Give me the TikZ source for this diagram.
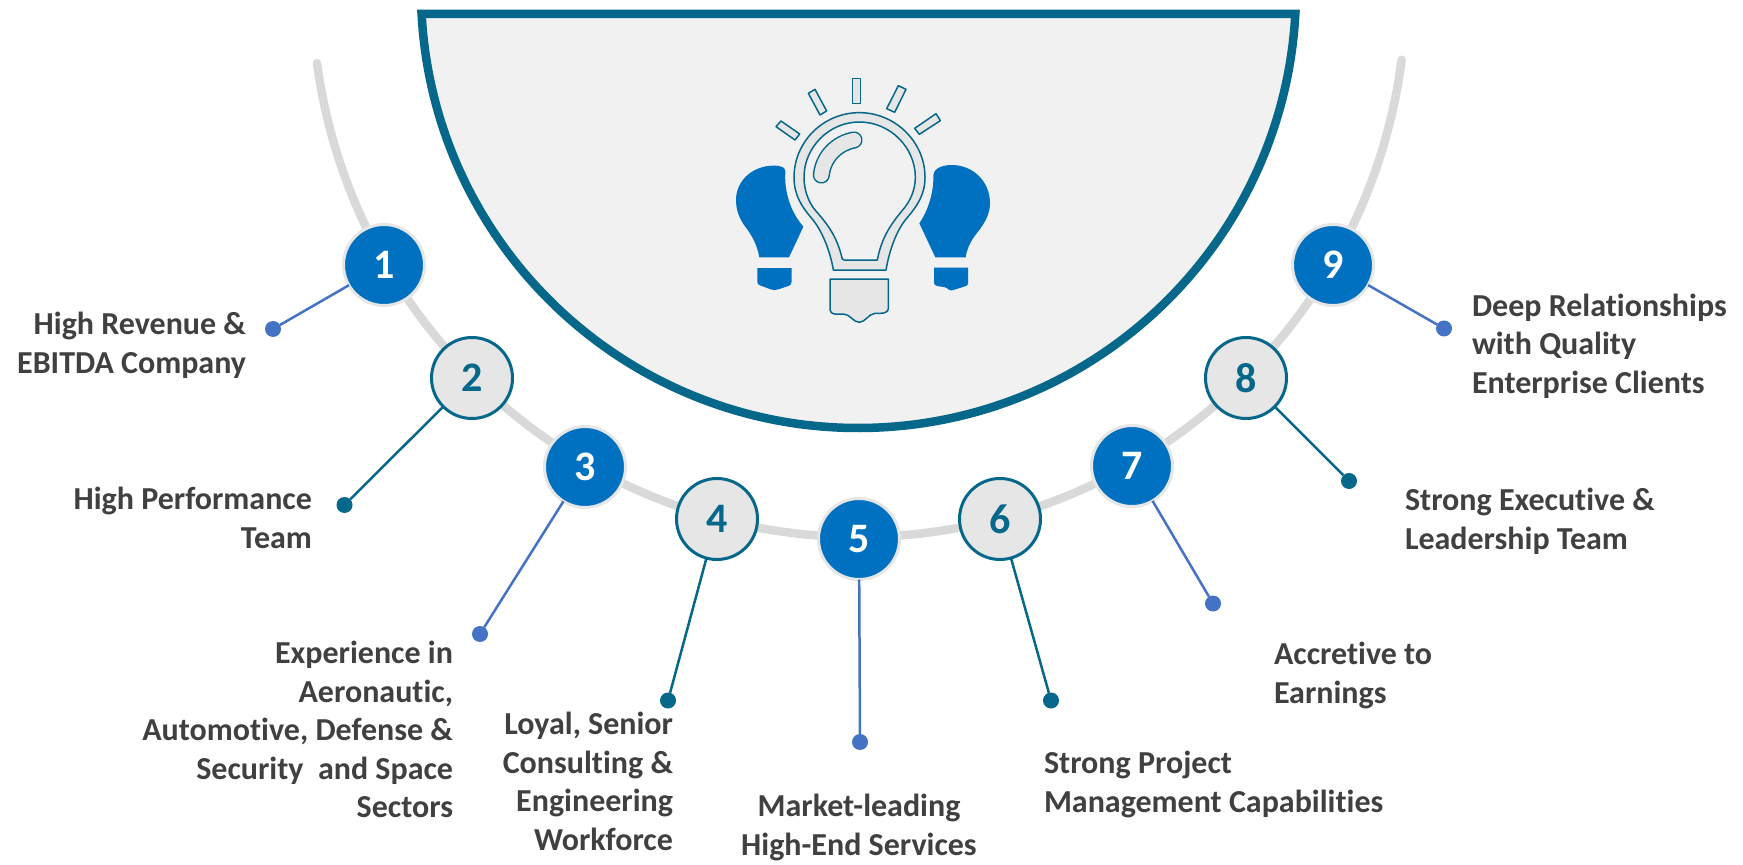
\documentclass[tikz,border=0pt]{standalone}
\usepackage{fontspec}
\setmainfont[Ligatures=NoCommon]{Carlito}
\definecolor{teal1}{HTML}{05688A}
\definecolor{blue1}{HTML}{0070C0}
\definecolor{blue2}{HTML}{4472C4}
\definecolor{ringgrey}{HTML}{E6E6E6}
\definecolor{arcgrey}{HTML}{D9D9D9}
\definecolor{panel}{HTML}{F1F1F1}
\definecolor{txt}{HTML}{404040}
\tikzset{
  x=0.5pt,y=-0.5pt,
  oddc/.style={circle,fill=blue1,draw=ringgrey,line width=1.5pt,minimum size=40.5pt,inner sep=0pt,outer sep=0pt,text=white,font=\fontsize{21}{21}\selectfont\bfseries},
  evenc/.style={circle,fill=ringgrey,draw=teal1,line width=1.5pt,minimum size=40.5pt,inner sep=0pt,outer sep=0pt,text=teal1,font=\fontsize{21}{21}\selectfont\bfseries},
  odot/.style={circle,fill=blue2,minimum size=8pt,inner sep=0pt,outer sep=0pt},
  edot/.style={circle,fill=teal1,minimum size=8pt,inner sep=0pt,outer sep=0pt},
  oline/.style={draw=blue2,line width=1.25pt},
  eline/.style={draw=teal1,line width=1.25pt},
  lbl/.style={inner sep=0pt,outer sep=0pt,text=txt,font=\fontsize{16}{19.25}\selectfont\bfseries},
  lblr/.style={lbl,anchor=north east,align=right},
  lbll/.style={lbl,anchor=north west,align=left},
  lblc/.style={lbl,anchor=north,align=center},
  icon/.style={draw=teal1,line width=0.75pt,fill=ringgrey,line join=round},
  solidbulb/.style={fill=blue1},
}
\begin{document}
\begin{tikzpicture}
\useasboundingbox (0,0) rectangle (1743,865);
% grey arc
\draw[arcgrey,line width=4.25pt,line cap=round] (317,63) arc[start angle=187.67,end angle=352.67,radius=273.5pt];
% half disc
\draw[teal1,fill=panel,line width=4.25pt,line join=miter] (421.6,14) arc[start angle=183.08,end angle=356.92,radius=218.75pt] -- cycle;
% circles
\node[oddc]  (c1) at (384,265) {1};
\node[evenc] (c2) at (472,378) {2};
\node[oddc]  (c3) at (585,467) {3};
\node[evenc] (c4) at (717,519) {4};
\node[oddc]  (c5) at (859,539) {5};
\node[evenc] (c6) at (1000,519) {6};
\node[oddc]  (c7) at (1132,466) {7};
\node[evenc] (c8) at (1246,378) {8};
\node[oddc]  (c9) at (1333,265) {9};
% dots
\node[odot] (d1) at (273,329) {};
\node[edot] (d2) at (344.5,505) {};
\node[odot] (d3) at (480,634) {};
\node[edot] (d4) at (668,700.5) {};
\node[odot] (d5) at (860,742) {};
\node[edot] (d6) at (1051,700.5) {};
\node[odot] (d7) at (1213,603.5) {};
\node[edot] (d8) at (1349,481) {};
\node[odot] (d9) at (1444,328.5) {};
% connectors
\draw[oline] (c1) -- (d1);
\draw[eline] (c2) -- (d2);
\draw[oline] (c3) -- (d3);
\draw[eline] (c4) -- (d4);
\draw[oline] (c5) -- (d5);
\draw[eline] (c6) -- (d6);
\draw[oline] (c7) -- (d7);
\draw[eline] (c8) -- (d8);
\draw[oline] (c9) -- (d9);
% labels
\node[lblr] (t1) at (246,308) {\strut High Revenue \&\\EBITDA Company};
\node[lblr] (t2) at (312,483) {\strut High Performance\\Team};
\node[lblr] (t3) at (453,637) {\strut Experience in\\Aeronautic,\\Automotive, Defense \&\\Security\ \ and Space\\Sectors};
\node[lblr] (t4) at (673,708) {\strut Loyal, Senior\\Consulting \&\\Engineering\\Workforce};
\node[lblc] (t5) at (859,790) {\strut Market-leading\\High-End Services};
\node[lbll] (t6) at (1044,747) {\strut Strong Project\\Management Capabilities};
\node[lbll] (t7) at (1274,638) {\strut Accretive to\\Earnings};
\node[lbll] (t8) at (1405,484) {\strut Strong Executive \&\\Leadership Team};
\node[lbll] (t9) at (1472,289.5) {\strut Deep Relationships\\with Quality\\Enterprise Clients};
% icon: centre bulb (zoom units, 3 per pixel)
\begin{scope}[shift={(780,60)},x=0.16667pt,y=-0.16667pt]
\path[icon,even odd rule]
  (160,630) .. controls (150,570) and (125,510) .. (95,475)
  .. controls (65,440) and (42,405) .. (42,352)
  .. controls (42,245) and (130,158) .. (238,158)
  .. controls (345,158) and (435,245) .. (435,352)
  .. controls (435,405) and (410,440) .. (380,475)
  .. controls (350,510) and (328,570) .. (318,630) -- cycle
  (185,590) .. controls (170,530) and (145,495) .. (105,450)
  .. controls (85,425) and (72,390) .. (72,352)
  .. controls (72,262) and (147,186) .. (238,186)
  .. controls (330,186) and (406,262) .. (406,352)
  .. controls (406,390) and (390,425) .. (368,450)
  .. controls (335,490) and (305,530) .. (292,600) -- (192,600)
  .. controls (187,600) and (186,596) .. (185,590) -- cycle;
\draw[teal1,line width=8.6pt,line cap=round] (124,345) .. controls (130,290) and (170,250) .. (222,240);
\draw[ringgrey,line width=7.1pt,line cap=round] (124,345) .. controls (130,290) and (170,250) .. (222,240);
\path[icon] (217,55) rectangle (242,130);
\path[icon] (85,100) -- (105,88) -- (140,153) -- (120,165) -- cycle;
\path[icon] (355,77) -- (378,88) -- (344,157) -- (320,146) -- cycle;
\path[icon] (468,161) -- (481,182) -- (418,223) -- (404,205) -- cycle;
\path[icon] (-12,200) -- (3,183) -- (59,222) -- (45,240) -- cycle;
\path[icon] (150,657) -- (325,657) -- (325,745)
  .. controls (325,755) and (315,760) .. (300,760) -- (285,760)
  .. controls (265,762) and (255,787) .. (238,787)
  .. controls (220,787) and (210,762) .. (190,762) -- (165,762)
  .. controls (155,762) and (150,755) .. (150,745) -- cycle;
% right solid bulb
\path[solidbulb] (466,592) -- (418,490)
  .. controls (445,450) and (462,395) .. (460,345)
  .. controls (460,330) and (480,315) .. (515,315)
  .. controls (580,315) and (630,365) .. (630,430)
  .. controls (630,460) and (615,490) .. (590,520)
  .. controls (570,545) and (560,570) .. (557,592) -- cycle;
\path[solidbulb] (462,623) -- (564,623) -- (564,670)
  .. controls (564,676) and (560,678) .. (555,679) -- (520,690)
  .. controls (514,692) and (510,692) .. (505,688)
  .. controls (500,682) and (490,680) .. (475,679)
  .. controls (467,678) and (462,675) .. (462,665) -- cycle;
\end{scope}
% left solid bulb
\begin{scope}[shift={(640,50)},x=0.16667pt,y=-0.16667pt]
\path[solidbulb] (358,622)
  .. controls (350,580) and (335,555) .. (312,525)
  .. controls (295,500) and (288,475) .. (288,450)
  .. controls (288,390) and (340,347) .. (400,347)
  .. controls (425,347) and (436,352) .. (436,365)
  .. controls (432,430) and (455,490) .. (490,530) -- (447,622) -- cycle;
\path[solidbulb] (352,654) -- (455,654) -- (455,695)
  .. controls (455,703) and (450,706) .. (445,708) -- (415,718)
  .. controls (405,721) and (400,721) .. (392,718) -- (360,706)
  .. controls (354,704) and (352,702) .. (352,695) -- cycle;
\end{scope}
\end{tikzpicture}
\end{document}
